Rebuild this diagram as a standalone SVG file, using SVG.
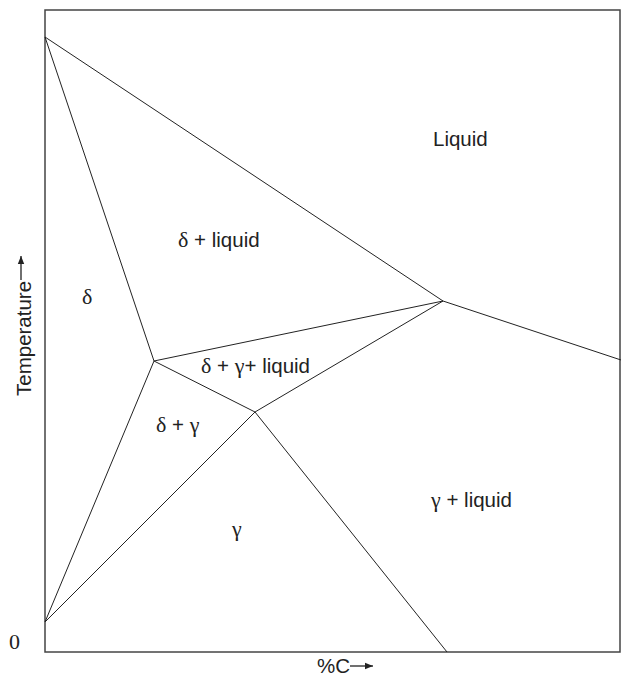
<svg xmlns="http://www.w3.org/2000/svg" width="621" height="686" viewBox="0 0 621 686">
<style>
.frame{fill:none;stroke:#444;stroke-width:1.5}
.ln{fill:none;stroke:#222;stroke-width:1}
.s{font-family:"Liberation Sans",Arial,sans-serif;font-size:20.5px;fill:#222}
.g{font-family:"Liberation Serif","Times New Roman",serif;font-size:22px;fill:#222}
.ax{fill:none;stroke:#222;stroke-width:1.3}
</style>
<defs>
<marker id="ah" viewBox="0 0 10 10" refX="10" refY="5" markerWidth="9" markerHeight="8" markerUnits="userSpaceOnUse" orient="auto">
<path d="M0,1 L10,5 L0,9 z" fill="#222"/>
</marker>
</defs>
<rect class="frame" x="45" y="10" width="575" height="642"/>
<g id="connectors">
<line class="ln" x1="45" y1="37" x2="443" y2="301"/>
<line class="ln" x1="443" y1="301" x2="621" y2="360"/>
<line class="ln" x1="45" y1="37" x2="154" y2="361"/>
<line class="ln" x1="154" y1="361" x2="443" y2="301"/>
<line class="ln" x1="154" y1="361" x2="255" y2="412"/>
<line class="ln" x1="255" y1="412" x2="443" y2="301"/>
<line class="ln" x1="154" y1="361" x2="45" y2="622"/>
<line class="ln" x1="45" y1="622" x2="255" y2="412"/>
<line class="ln" x1="255" y1="412" x2="447" y2="652"/>
</g>
<g id="liquid"><text class="s" x="433" y="146" font-size="21.5">Liquid</text></g>
<g id="delta-liquid"><text x="178" y="247"><tspan class="g">δ</tspan><tspan class="s"> + liquid</tspan></text></g>
<g id="delta"><text class="g" x="82" y="304">δ</text></g>
<g id="delta-gamma-liquid"><text x="201" y="373"><tspan class="g">δ</tspan><tspan class="s"> + </tspan><tspan class="g">γ</tspan><tspan class="s">+ liquid</tspan></text></g>
<g id="delta-gamma"><text x="156" y="432"><tspan class="g">δ</tspan><tspan class="s"> + </tspan><tspan class="g">γ</tspan></text></g>
<g id="gamma-liquid"><text x="431" y="507"><tspan class="g">γ</tspan><tspan class="s"> + liquid</tspan></text></g>
<g id="gamma"><text class="g" x="232" y="536">γ</text></g>
<g id="axes">
<text class="s" transform="translate(31,396) rotate(-90)">Temperature</text>
<line class="ax" x1="21" y1="280" x2="21" y2="256" marker-end="url(#ah)"/>
<text class="g" x="9" y="649" font-size="19">0</text>
<text class="s" x="317" y="673">%C</text>
<line class="ax" x1="350" y1="666" x2="373" y2="666" marker-end="url(#ah)"/>
</g>
</svg>
